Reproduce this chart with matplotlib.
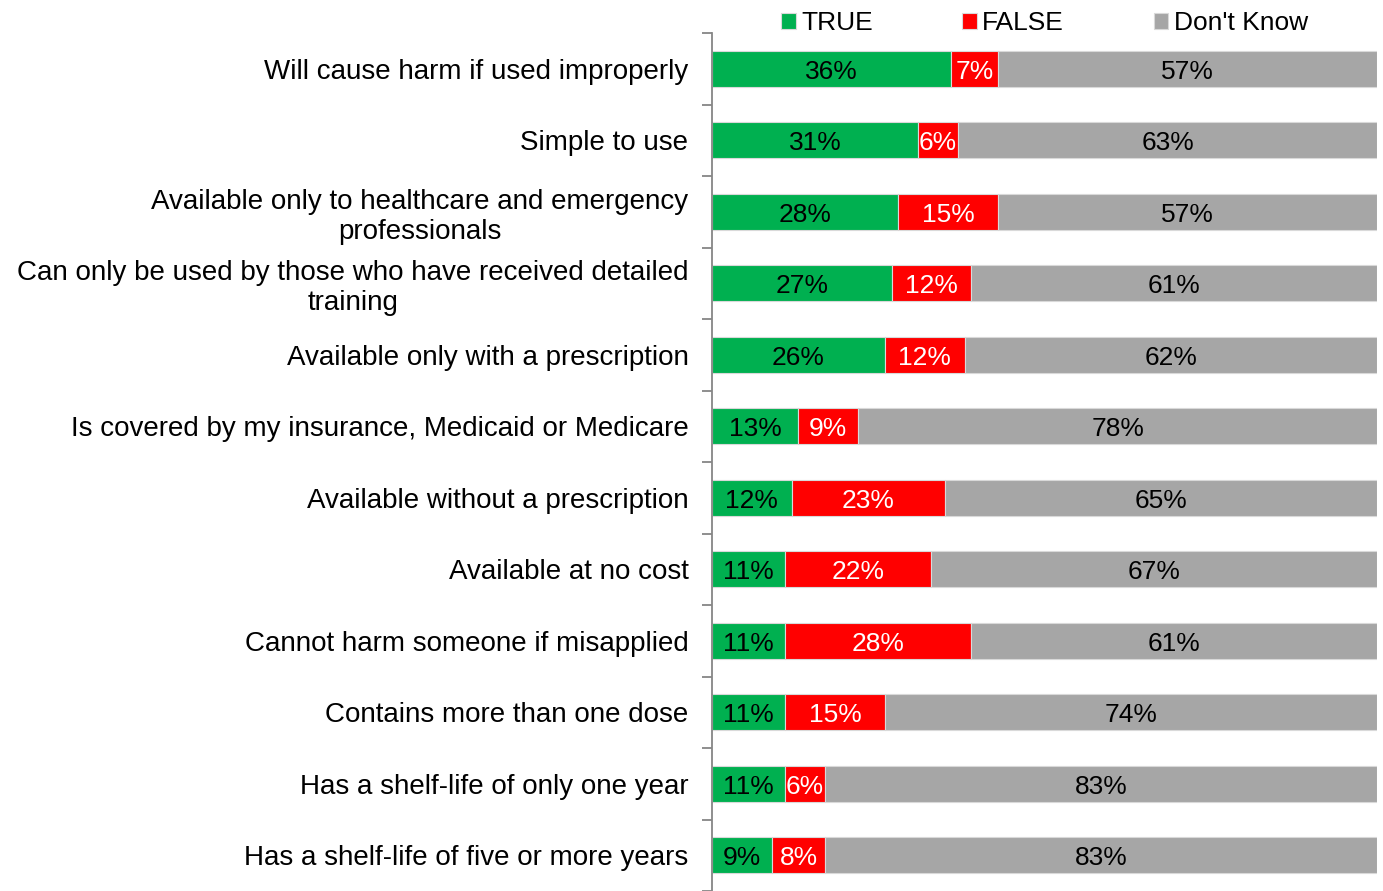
import matplotlib.pyplot as plt
import numpy as np

categories = [
    "Will cause harm if used improperly",
    "Simple to use",
    "Available only to healthcare and emergency\nprofessionals",
    "Can only be used by those who have received detailed\ntraining",
    "Available only with a prescription",
    "Is covered by my insurance, Medicaid or Medicare",
    "Available without a prescription",
    "Available at no cost",
    "Cannot harm someone if misapplied",
    "Contains more than one dose",
    "Has a shelf-life of only one year",
    "Has a shelf-life of five or more years",
]
true_vals = [36, 31, 28, 27, 26, 13, 12, 11, 11, 11, 11, 9]
false_vals = [7, 6, 15, 12, 12, 9, 23, 22, 28, 15, 6, 8]
dk_vals = [57, 63, 57, 61, 62, 78, 65, 67, 61, 74, 83, 83]

series = ["TRUE", "FALSE", "Don't Know"]
colors = ["#00B050", "#FF0000", "#A6A6A6"]
text_colors = ["black", "white", "black"]

plt.rcParams['font.family'] = ['Liberation Sans', 'DejaVu Sans']

fig = plt.figure(figsize=(13.83, 8.91), dpi=100)
ax = fig.add_axes([712 / 1383, 0, 665 / 1383, (891 - 33) / 891])

y = np.arange(len(categories))
left = np.zeros(len(categories))
for name, vals, c, tc in zip(series, [true_vals, false_vals, dk_vals], colors, text_colors):
    vals = np.array(vals)
    ax.barh(y, vals, left=left, height=0.5, color=c, label=name,
            edgecolor="#D9D9D9", linewidth=0.8)
    for yi, l, v in zip(y, left, vals):
        ax.text(l + v / 2, yi + 0.04, f"{v}%", ha="center", va="center",
                color=tc, fontsize=19)
    left += vals

ax.set_xlim(0, 100)
ax.set_ylim(11.5 - 6 / 72, -0.5)
ax.set_yticks(y)
ax.set_yticklabels(categories, fontsize=20, multialignment="center")
ax.set_yticks(np.arange(-0.5, 12, 1), minor=True)
ax.tick_params(axis="y", which="major", length=0, pad=17)
ax.tick_params(axis="y", which="minor", length=7, color="#868686", width=1.3)
ax.set_xticks([])
for s in ["top", "right", "bottom"]:
    ax.spines[s].set_visible(False)
ax.spines["left"].set_color("#868686")
ax.spines["left"].set_linewidth(1.3)

ax.legend(loc="lower center", bbox_to_anchor=(0.5, 0.985), ncol=3, frameon=False,
          fontsize=19, handlelength=0.55, handleheight=0.55, handletextpad=0.2,
          columnspacing=3.4, borderaxespad=0)

fig.savefig("out.png", dpi=100)
